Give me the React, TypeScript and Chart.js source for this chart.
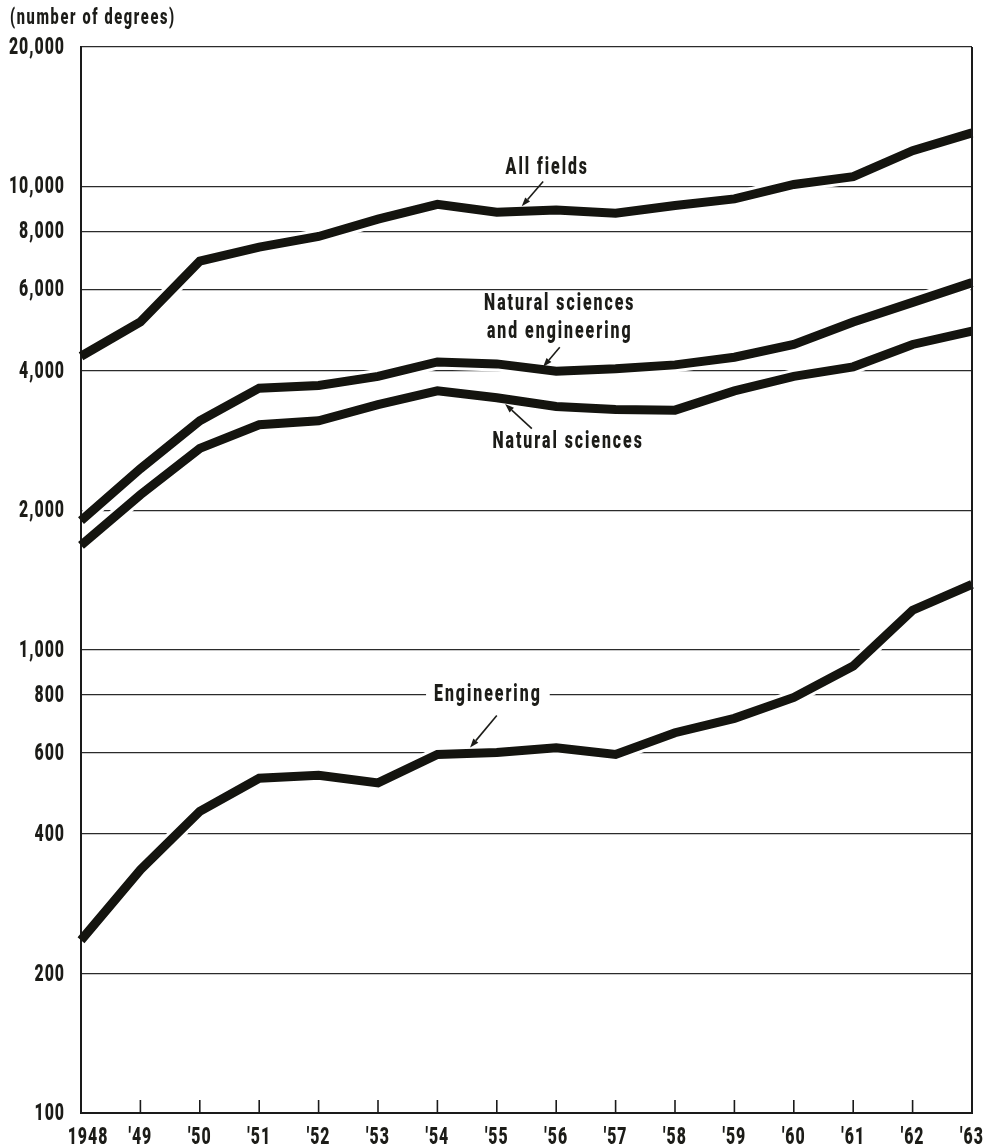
import React, { useEffect, useRef } from "react";
import { Chart, registerables } from "chart.js";

Chart.register(...registerables);

// ---- Data ----
const years = ["1948", "'49", "'50", "'51", "'52", "'53", "'54", "'55", "'56", "'57", "'58", "'59", "'60", "'61", "'62", "'63"];
const allFields = [4300, 5100, 6900, 7400, 7800, 8500, 9150, 8800, 8900, 8750, 9100, 9400, 10100, 10500, 11950, 13050];
const natSciEng = [1900, 2460, 3120, 3670, 3720, 3890, 4180, 4140, 3990, 4040, 4120, 4280, 4560, 5100, 5620, 6200];
const natSci = [1680, 2160, 2720, 3060, 3120, 3380, 3620, 3500, 3350, 3300, 3290, 3620, 3890, 4080, 4560, 4870];
const engineering = [236, 335, 448, 528, 536, 516, 594, 600, 614, 594, 662, 711, 789, 922, 1217, 1383];
const yTicks = [100, 200, 400, 600, 800, 1000, 2000, 4000, 6000, 8000, 10000, 20000];
const yAxisTitle = "(number of degrees)";

// Annotation labels, placed in data space (category index, value)
const labelAllFields = { lines: ["All fields"], at: [7.85, 10960], from: [7.78, 10245], to: [7.42, 9060] };
const labelNSE = { lines: ["Natural sciences", "and engineering"], at: [8.06, 5575], from: [8.06, 4496], to: [7.78, 4080] };
const labelNS = { lines: ["Natural sciences"], at: [8.2, 2808], from: [7.59, 3002], to: [7.14, 3390] };
const labelEng = { lines: ["Engineering"], at: [6.85, 797], from: [7.0, 721], to: [6.55, 615] };
const annotations = [labelAllFields, labelNSE, labelNS, labelEng];

const FONT_FAMILY = "Roboto, 'Liberation Sans', 'DejaVu Sans', sans-serif";
const FONT_WEIGHT = 900;
const SX = 0.66; // horizontal condensing of the lettering
const INK = "#1c1c18";
const LINE_INK = "#14140f";

function setFont(ctx: any, size: number, spacing: number) {
  ctx.font = `${FONT_WEIGHT} ${size}px ${FONT_FAMILY}`;
  try {
    ctx.letterSpacing = `${spacing}px`;
  } catch (e) {}
}

function condensedText(ctx: any, text: string, x: number, y: number, align: CanvasTextAlign, size: number, spacing: number) {
  ctx.save();
  ctx.translate(x, y);
  ctx.scale(SX, 1);
  setFont(ctx, size, spacing);
  ctx.textAlign = align;
  ctx.textBaseline = "middle";
  ctx.fillStyle = INK;
  ctx.fillText(text, 0, 0);
  ctx.restore();
}

function measureCondensed(ctx: any, text: string, size: number, spacing: number) {
  ctx.save();
  setFont(ctx, size, spacing);
  const w = ctx.measureText(text).width * SX;
  ctx.restore();
  return w;
}

const haloPlugin = {
  id: "halo",
  beforeDatasetsDraw(chart: any) {
    const { ctx, chartArea: a } = chart;
    ctx.save();
    ctx.beginPath();
    ctx.rect(a.left + 1.5, a.top + 1.5, a.right - a.left - 3, a.bottom - a.top - 3);
    ctx.clip();
    ctx.strokeStyle = "#ffffff";
    ctx.lineWidth = 15;
    ctx.lineJoin = "round";
    chart.data.datasets.forEach((_: any, i: number) => {
      const meta = chart.getDatasetMeta(i);
      ctx.beginPath();
      meta.data.forEach((p: any, j: number) => (j ? ctx.lineTo(p.x, p.y) : ctx.moveTo(p.x, p.y)));
      ctx.stroke();
    });
    ctx.restore();
  },
};

function drawArrow(ctx: CanvasRenderingContext2D, x1: number, y1: number, x2: number, y2: number) {
  const ang = Math.atan2(y2 - y1, x2 - x1);
  const head = 9;
  const hw = 3.2;
  const bx = x2 - head * Math.cos(ang);
  const by = y2 - head * Math.sin(ang);
  ctx.beginPath();
  ctx.moveTo(x1, y1);
  ctx.lineTo(bx, by);
  ctx.lineWidth = 1.6;
  ctx.strokeStyle = INK;
  ctx.stroke();
  ctx.beginPath();
  ctx.moveTo(x2, y2);
  ctx.lineTo(bx + hw * Math.sin(ang), by - hw * Math.cos(ang));
  ctx.lineTo(bx - hw * Math.sin(ang), by + hw * Math.cos(ang));
  ctx.closePath();
  ctx.fillStyle = INK;
  ctx.fill();
}

const decorPlugin = {
  id: "decor",
  afterDraw(chart: any) {
    const { ctx, chartArea: a, scales } = chart;
    const xs = scales.x;
    const ys = scales.y;
    ctx.save();
    // right frame line
    ctx.strokeStyle = "#1a1a1a";
    ctx.lineWidth = 2;
    ctx.beginPath();
    ctx.moveTo(a.right, a.top);
    ctx.lineTo(a.right, a.bottom);
    ctx.stroke();
    // inner tick marks along the bottom axis
    ctx.lineWidth = 1.6;
    for (let i = 1; i < years.length - 1; i++) {
      const x = xs.getPixelForValue(i);
      ctx.beginPath();
      ctx.moveTo(x, a.bottom);
      ctx.lineTo(x, a.bottom - 13);
      ctx.stroke();
    }
    // y tick labels
    yTicks.forEach((v) => {
      condensedText(ctx, v.toLocaleString("en-US"), a.left - 16, ys.getPixelForValue(v) + 1, "right", 24, 1.5);
    });
    // x tick labels
    years.forEach((t, i) => {
      condensedText(ctx, t, xs.getPixelForValue(i) + (i === 0 ? 7 : 0), a.bottom + 25, "center", 24, 1.5);
    });
    // axis title
    condensedText(ctx, yAxisTitle, 10, 18, "left", 22, 2.5);
    // annotation labels
    annotations.forEach((an) => {
      const cx = xs.getPixelForValue(an.at[0]);
      const cy = ys.getPixelForValue(an.at[1]);
      const lh = 28;
      const n = an.lines.length;
      const w = Math.max(...an.lines.map((t) => measureCondensed(ctx, t, 24, 3)));
      ctx.fillStyle = "#ffffff";
      ctx.fillRect(cx - w / 2 - 8, cy - 13, w + 16, (n - 1) * lh + 26);
      an.lines.forEach((t, k) => condensedText(ctx, t, cx, cy + k * lh, "center", 24, 3));
      drawArrow(
        ctx,
        xs.getPixelForValue(an.from[0]),
        ys.getPixelForValue(an.from[1]),
        xs.getPixelForValue(an.to[0]),
        ys.getPixelForValue(an.to[1])
      );
    });
    ctx.restore();
  },
};

function series(label: string, data: number[]) {
  return {
    label,
    data,
    borderColor: LINE_INK,
    backgroundColor: LINE_INK,
    borderWidth: 9,
    pointRadius: 0,
    tension: 0,
    fill: false,
    borderJoinStyle: "miter" as const,
    borderCapStyle: "butt" as const,
  };
}

export default function App() {
  const ref = useRef<HTMLCanvasElement>(null);
  useEffect(() => {
    document.body.style.margin = "0";
    const canvas = ref.current;
    if (!canvas) return;
    const chart = new Chart(canvas, {
      type: "line",
      data: {
        labels: years,
        datasets: [
          series("All fields", allFields),
          series("Natural sciences and engineering", natSciEng),
          series("Natural sciences", natSci),
          series("Engineering", engineering),
        ],
      },
      options: {
        responsive: false,
        animation: false,
        events: [],
        layout: { padding: { left: 0, right: 20, top: 47, bottom: 0 } },
        plugins: { legend: { display: false }, tooltip: { enabled: false }, title: { display: false } },
        scales: {
          x: {
            type: "category",
            offset: false,
            grid: { display: false, drawTicks: false },
            border: { display: true, color: "#1a1a1a", width: 2 },
            ticks: { display: false, autoSkip: false, maxRotation: 0 },
            afterFit: (s: any) => {
              s.height = 35;
            },
          },
          y: {
            type: "logarithmic",
            min: 100,
            max: 20000,
            afterBuildTicks: (s: any) => {
              s.ticks = yTicks.map((v) => ({ value: v }));
            },
            afterFit: (s: any) => {
              s.width = 81;
            },
            grid: { color: "#2b2b2b", lineWidth: 1.3, drawTicks: false },
            border: { display: true, color: "#1a1a1a", width: 2 },
            ticks: { display: false, autoSkip: false },
          },
        },
      },
      plugins: [haloPlugin, decorPlugin],
    });
    return () => chart.destroy();
  }, []);
  return <canvas ref={ref} width={992} height={1148} style={{ display: "block" }} />;
}
